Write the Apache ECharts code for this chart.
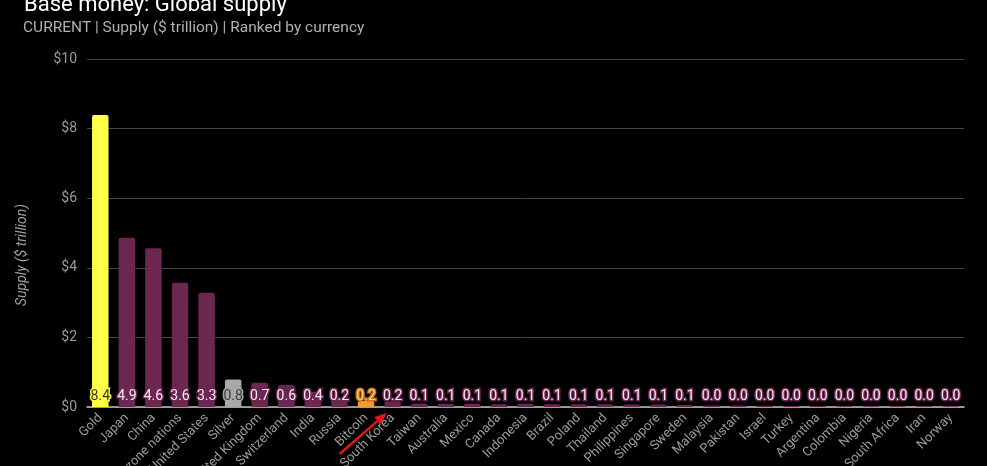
<!DOCTYPE html>
<html>
<head>
<meta charset="utf-8">
<script src="https://cdn.jsdelivr.net/npm/echarts@6/dist/echarts.min.js"></script>
<style>
html,body{margin:0;padding:0;background:#000;}
#c{width:987px;height:466px;}
</style>
</head>
<body>
<div id="c"></div>
<script>
const titleText = 'Base money: Global supply';
const subtitleText = 'CURRENT | Supply ($ trillion) | Ranked by currency';
const yAxisName = 'Supply ($ trillion)';
const categories = ['Gold','Japan','China','Eurozone nations','United States','Silver','United Kingdom','Switzerland','India','Russia','Bitcoin','South Korea','Taiwan','Australia','Mexico','Canada','Indonesia','Brazil','Poland','Thailand','Philippines','Singapore','Sweden','Malaysia','Pakistan','Israel','Turkey','Argentina','Colombia','Nigeria','South Africa','Iran','Norway'];
const supply = [8.39,4.86,4.56,3.57,3.28,0.79,0.70,0.63,0.44,0.22,0.17,0.16,0.10,0.09,0.09,0.08,0.09,0.08,0.08,0.08,0.07,0.07,0.06,0.045,0.04,0.035,0.03,0.03,0.025,0.025,0.02,0.02,0.02];
const yTicks = [0,2,4,6,8,10];
const annotated = 'South Korea';

const defaultStyle = {bar:'#6b2750', text:'#fde6f5', outline:'#6b2750'};
const specialStyle = {
  'Gold':   {bar:'#ffff4a', text:'#3a3a10', outline:'#ffff4a'},
  'Silver': {bar:'#a8a8a8', text:'#3c3c3c', outline:'#a8a8a8'},
  'Bitcoin':{bar:'#f39a2c', text:'#ffd486', outline:'#c8761c'}
};

const chart = echarts.init(document.getElementById('c'));
const data = supply.map((v,i)=>{
  const s = specialStyle[categories[i]] || defaultStyle;
  return {
    value: v,
    itemStyle: {color: s.bar, borderRadius: [2,2,0,0]},
    label: {color: s.text, textBorderColor: s.outline}
  };
});

chart.setOption({
  backgroundColor: '#000',
  animation: false,
  title: [
    {text: titleText, left: 19, top: -11, textStyle: {color:'#ffffff', fontSize: 22, fontWeight: 'normal', fontFamily: 'Roboto'}},
    {text: subtitleText, left: 18, top: 15, textStyle: {color:'#b0b0b0', fontSize: 15.5, fontWeight: 'normal', fontFamily: 'Roboto'}}
  ],
  grid: {left: 87, right: 23, top: 59, bottom: 59, containLabel: false, outerBoundsMode: 'none'},
  xAxis: {
    type: 'category',
    data: categories,
    axisLine: {lineStyle: {color: '#bdbdbd', width: 1.5}},
    axisTick: {show: false},
    axisLabel: {rotate: 45, color: '#9a9a9a', fontSize: 13, fontFamily: 'Roboto', margin: 9, interval: 0}
  },
  yAxis: {
    type: 'value',
    min: 0, max: 10, interval: 2,
    name: yAxisName,
    nameLocation: 'middle',
    nameGap: 58,
    nameTextStyle: {color: '#a0a0a0', fontSize: 14, fontStyle: 'italic', fontFamily: 'Roboto', padding: [0,44,0,0]},
    axisLine: {show: false},
    axisTick: {show: false},
    splitLine: {lineStyle: {color: '#464646', width: 1}},
    axisLabel: {color: '#9a9a9a', fontSize: 14, fontFamily: 'Roboto', margin: 10,
      formatter: v => yTicks.includes(v) ? '$' + v : ''}
  },
  series: [{
    type: 'bar',
    data: data,
    barWidth: '62%',
    label: {
      show: true,
      position: 'insideBottom',
      distance: 4,
      fontSize: 14,
      fontFamily: 'Roboto',
      textBorderWidth: 3,
      formatter: p => p.value.toFixed(1)
    }
  }]
});

const idx = categories.indexOf(annotated);
const tip = chart.convertToPixel({gridIndex:0}, [idx, 0]);
const tx = tip[0] - 6, ty = tip[1] + 6;
const tailX = tx - 47, tailY = ty + 41;
const ang = Math.atan2(ty - tailY, tx - tailX);
const hl = 12, hw = 5;
const bx = tx - hl*Math.cos(ang), by = ty - hl*Math.sin(ang);
chart.setOption({
  graphic: [
    {type:'line', shape:{x1:tailX, y1:tailY, x2:bx, y2:by}, style:{stroke:'#e3141c', lineWidth:2.5}, z: 100},
    {type:'polygon', shape:{points:[[tx,ty],[bx - hw*Math.sin(ang), by + hw*Math.cos(ang)],[bx + hw*Math.sin(ang), by - hw*Math.cos(ang)]]}, style:{fill:'#e3141c'}, z: 100}
  ]
});
</script>
</body>
</html>
